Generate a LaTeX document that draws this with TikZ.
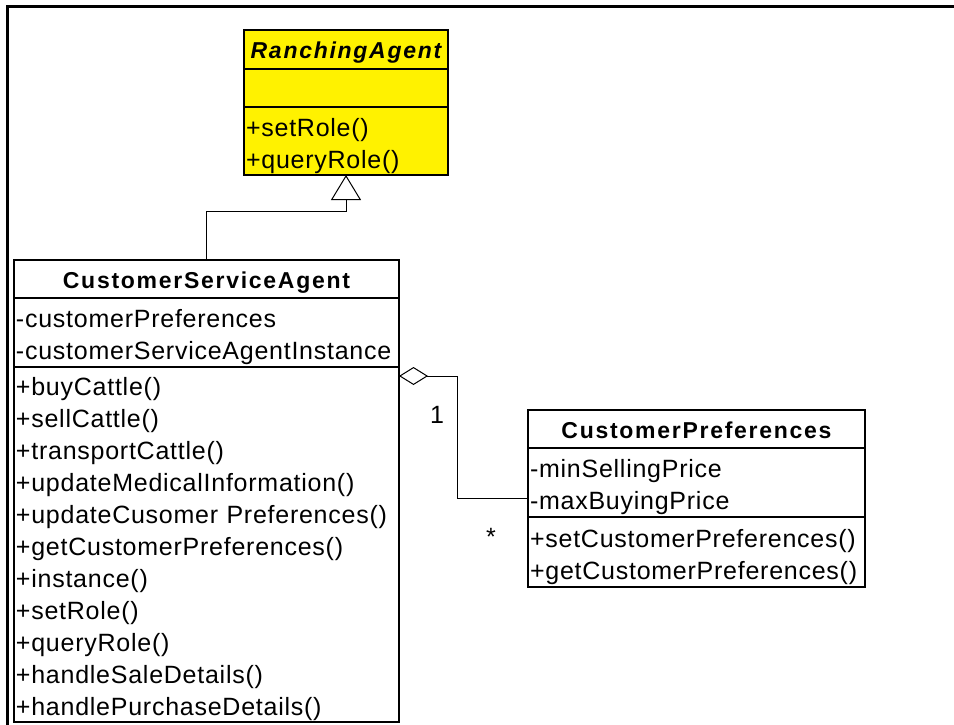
\documentclass[tikz,border=0pt]{standalone}
\usepackage{fontspec}
\newfontfamily\umlfont[LetterSpace=3]{Liberation Sans}
\newfontfamily\umlheadfont[LetterSpace=7.5]{Liberation Sans}
\usetikzlibrary{positioning,arrows.meta}
\tikzset{
	umlbox/.style={draw, line width=1.5pt, outer sep=0pt, inner sep=0pt},
	umltitle/.style={umlbox, text height=22pt, text depth=4pt, font=\umlheadfont\fontsize{23}{32}\selectfont\bfseries},
	umlpart/.style={umlbox, inner xsep=2pt, align=left, font=\umlfont\fontsize{25}{32}\selectfont, execute at begin node={\noindent\rule{0pt}{28pt}}},
	umlline/.style={line width=1pt},
	umllabel/.style={font=\umlfont\fontsize{25}{32}\selectfont, inner sep=0pt},
}

\begin{document}
\begin{tikzpicture}[x=1pt, y=-1pt]
			%%%%% START %%%%%
			\useasboundingbox (0, 0) rectangle (954, 725);
			\draw[line width=3pt] (7, 725) -- (7, 7) -- (954, 7);
			
			% RanchingAgent
			\node[umltitle, fill=yellow, minimum width=204pt, minimum height=39pt, anchor=north west] (ratitle) at (244, 30) {\itshape RanchingAgent};
			\node[umlbox, fill=yellow, minimum width=204pt, minimum height=38pt, below=0pt of ratitle] (raattr) {};
			\node[umlpart, fill=yellow, text width=200pt, minimum height=68pt, below=0pt of raattr] (raops) {+setRole()\\+queryRole()};
			
			% CustomerServiceAgent
			\node[umltitle, minimum width=385pt, minimum height=38pt, anchor=north west] (csatitle) at (14, 260) {CustomerServiceAgent};
			\node[umlpart, text width=381pt, minimum height=69pt, below=0pt of csatitle] (csaattr) {-customerPreferences\\-customerServiceAgentInstance};
			\node[umlpart, text width=381pt, minimum height=355pt, below=0pt of csaattr] (csaops) {+buyCattle()\\+sellCattle()\\+transportCattle()\\+updateMedicalInformation()\\+updateCusomer~Preferences()\\+getCustomerPreferences()\\+instance()\\+setRole()\\+queryRole()\\+handleSaleDetails()\\+handlePurchaseDetails()};
			
			% CustomerPreferences
			\node[umltitle, minimum width=337pt, minimum height=38pt, anchor=north west] (cptitle) at (528, 410) {CustomerPreferences};
			\node[umlpart, text width=333pt, minimum height=69pt, below=0pt of cptitle] (cpattr) {-minSellingPrice\\-maxBuyingPrice};
			\node[umlpart, text width=333pt, minimum height=70pt, below=0pt of cpattr] (cpops) {+setCustomerPreferences()\\+getCustomerPreferences()};
			
			% generalization
			\draw[umlline, -{Triangle[open, length=25pt, width=30pt]}] (csatitle.north) -- ++(0, -49) -| (raops.south);
			
			% aggregation
			\draw[umlline, {Diamond[open, length=29pt, width=18pt]}-] ([yshift=-9pt]csaops.north east) -- ++(58, 0) |- ([yshift=19pt]cpattr.south west);
			\node[umllabel] (multone) at (437, 415) {1};
			\node[umllabel] (multmany) at (491, 537) {*};
			%%%%% END %%%%%
\end{tikzpicture}
\end{document}
